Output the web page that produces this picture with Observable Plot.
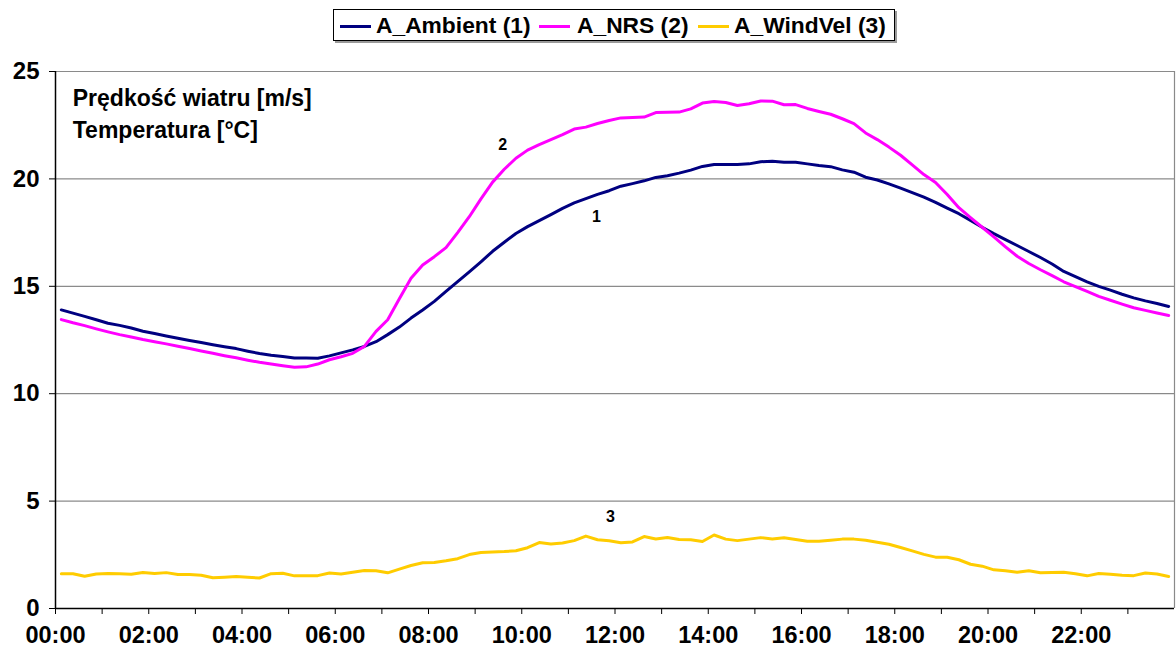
<!DOCTYPE html>
<html>
<head>
<meta charset="utf-8">
<script src="https://cdn.jsdelivr.net/npm/d3@7"></script>
<script src="https://cdn.jsdelivr.net/npm/@observablehq/plot@0.6"></script>
<style>
  html, body { margin: 0; padding: 0; background: #fff; }
  #wrap { position: relative; width: 1176px; height: 650px; font-family: "Liberation Sans", Arial, sans-serif; }
  #wrap svg text { font-weight: bold; }
  #legend { position: absolute; left: 333px; top: 9px; width: 560px; height: 30px; border: 1px solid #000; box-shadow: 2px 2px 0 #9a9a9a; background: #fff; font-weight: bold; font-size: 22.8px; }
  #legend .ln { position: absolute; top: 15px; height: 3px; width: 31px; }
  #legend .tx { position: absolute; top: 2px; line-height: 26px; white-space: nowrap; }
</style>
</head>
<body>
<div id="wrap">
  <div id="legend"></div>
</div>
<script>
// Series names, colours
const seriesNames = ["A_Ambient (1)", "A_NRS (2)", "A_WindVel (3)"];
const seriesColors = ["#000080", "#FF00FF", "#FFCC00"];

// 15-minute readings (hours since midnight, centre of each interval)
const times = d3.range(96).map(i => 0.125 + 0.25 * i);

const ambient = [
  13.9, 13.75, 13.6, 13.44, 13.28, 13.18, 13.06, 12.91,
  12.8, 12.69, 12.58, 12.48, 12.38, 12.28, 12.19, 12.1,
  11.98, 11.87, 11.79, 11.73, 11.66, 11.66, 11.65, 11.76,
  11.9, 12.04, 12.2, 12.42, 12.75, 13.1, 13.52, 13.9,
  14.3, 14.76, 15.22, 15.67, 16.14, 16.63, 17.05, 17.46,
  17.78, 18.06, 18.34, 18.63, 18.88, 19.08, 19.28, 19.45,
  19.66, 19.78, 19.91, 20.07, 20.15, 20.27, 20.41, 20.58,
  20.67, 20.67, 20.67, 20.7, 20.8, 20.82, 20.78, 20.78,
  20.7, 20.62, 20.57, 20.42, 20.31, 20.08, 19.95, 19.77,
  19.57, 19.36, 19.15, 18.91, 18.64, 18.38, 18.07, 17.75,
  17.45, 17.17, 16.9, 16.62, 16.34, 16.04, 15.69, 15.45,
  15.21, 15.0, 14.82, 14.63, 14.46, 14.32, 14.2, 14.06
];

const nrs = [
  13.45, 13.3, 13.17, 13.02, 12.88, 12.75, 12.64, 12.52,
  12.42, 12.32, 12.21, 12.1, 11.99, 11.88, 11.77, 11.67,
  11.56, 11.46, 11.38, 11.3, 11.23, 11.25, 11.38, 11.58,
  11.72, 11.88, 12.2, 12.9, 13.44, 14.42, 15.37, 15.99,
  16.38, 16.8, 17.5, 18.24, 19.07, 19.85, 20.45, 20.96,
  21.34, 21.6, 21.83, 22.06, 22.32, 22.41, 22.58, 22.72,
  22.84, 22.86, 22.88, 23.09, 23.1, 23.11, 23.26, 23.53,
  23.6, 23.56, 23.42, 23.5, 23.63, 23.62, 23.45, 23.46,
  23.28, 23.14, 23.01, 22.8, 22.57, 22.14, 21.83, 21.48,
  21.1, 20.65, 20.2, 19.83, 19.27, 18.66, 18.2, 17.75,
  17.3, 16.84, 16.4, 16.06, 15.77, 15.5, 15.21, 14.98,
  14.76, 14.53, 14.35, 14.17, 14.0, 13.88, 13.76, 13.64
];

const windVel = [
  1.62, 1.62, 1.5, 1.61, 1.63, 1.62, 1.59, 1.68,
  1.63, 1.67, 1.58, 1.58, 1.55, 1.43, 1.46, 1.49,
  1.45, 1.42, 1.62, 1.64, 1.52, 1.52, 1.53, 1.65,
  1.61, 1.69, 1.77, 1.76, 1.66, 1.83, 2.0, 2.13,
  2.14, 2.22, 2.32, 2.51, 2.61, 2.63, 2.65, 2.69,
  2.83, 3.07, 3.0, 3.05, 3.16, 3.37, 3.2, 3.15,
  3.06, 3.1, 3.35, 3.24, 3.31, 3.21, 3.2, 3.12,
  3.42, 3.23, 3.16, 3.23, 3.3, 3.24, 3.29, 3.21,
  3.13, 3.13, 3.18, 3.23, 3.23, 3.18, 3.08, 2.99,
  2.84, 2.68, 2.52, 2.39, 2.39, 2.27, 2.06, 1.97,
  1.8, 1.76, 1.69, 1.76, 1.66, 1.68, 1.69, 1.62,
  1.52, 1.63, 1.59, 1.55, 1.53, 1.65, 1.61, 1.49
];

// Axis ticks
const hourTicks = d3.range(0, 24);
const yTicks = [0, 5, 10, 15, 20, 25];
const gridValues = [5, 10, 15, 20];

// Annotations
const noteText = ["Prędkość wiatru [m/s]", "Temperatura [°C]"];
const noteX = [0.37, 0.37];
const noteY = [23.74, 22.25];
const seriesLabel = ["1", "2", "3"];
const seriesLabelX = [11.6, 9.59, 11.9];
const seriesLabelY = [18.25, 21.6, 4.28];

const allSeries = [ambient, nrs, windVel];
const rows = [];
allSeries.forEach((vals, s) => vals.forEach((v, i) => rows.push({t: times[i], v, s: seriesNames[s]})));
const notes = noteText.map((text, i) => ({text, x: noteX[i], y: noteY[i]}));
const sLabels = seriesLabel.map((text, i) => ({text, x: seriesLabelX[i], y: seriesLabelY[i]}));

const fmt = h => (h % 2 === 0 ? String(h).padStart(2, "0") + ":00" : "");

const chart = Plot.plot({
  width: 1176,
  height: 650,
  marginTop: 71,
  marginBottom: 42,
  marginLeft: 55,
  marginRight: 2,
  style: {fontFamily: "'Liberation Sans', Arial, sans-serif", background: "transparent", color: "#000"},
  x: {domain: [0, 24]},
  y: {domain: [0, 25]},
  color: {domain: seriesNames, range: seriesColors},
  marks: [
    Plot.ruleY(gridValues, {stroke: "#6e6e6e", strokeWidth: 1}),
    Plot.ruleY([25], {stroke: "#8a8a8a", strokeWidth: 1.2}),
    Plot.ruleX([24], {stroke: "#8a8a8a", strokeWidth: 1.2}),
    Plot.line(rows, {x: "t", y: "v", z: "s", stroke: "s", strokeWidth: 3, strokeLinejoin: "round"}),
    Plot.ruleX([0], {stroke: "#000", strokeWidth: 1.5}),
    Plot.ruleY([0], {stroke: "#000", strokeWidth: 1.5}),
    Plot.axisX({ticks: hourTicks, tickFormat: fmt, tickSize: 6, tickPadding: 12, fontSize: 23.5, label: null, stroke: "#000"}),
    Plot.axisY({ticks: yTicks, tickSize: 6, tickPadding: 10, fontSize: 24, label: null, stroke: "#000"}),
    Plot.text(notes, {x: "x", y: "y", text: "text", textAnchor: "start", fontSize: 23, fill: "#000"}),
    Plot.text(sLabels, {x: "x", y: "y", text: "text", fontSize: 16, fill: "#000"})
  ]
});
document.getElementById("wrap").appendChild(chart);

// Legend
const legend = document.getElementById("legend");
const lineLeft = [6, 205, 364];
const textLeft = [42, 243, 400];
seriesNames.forEach((name, i) => {
  const ln = document.createElement("div");
  ln.className = "ln";
  ln.style.left = lineLeft[i] + "px";
  ln.style.background = seriesColors[i];
  legend.appendChild(ln);
  const tx = document.createElement("div");
  tx.className = "tx";
  tx.style.left = textLeft[i] + "px";
  tx.textContent = name;
  legend.appendChild(tx);
});
</script>
</body>
</html>
